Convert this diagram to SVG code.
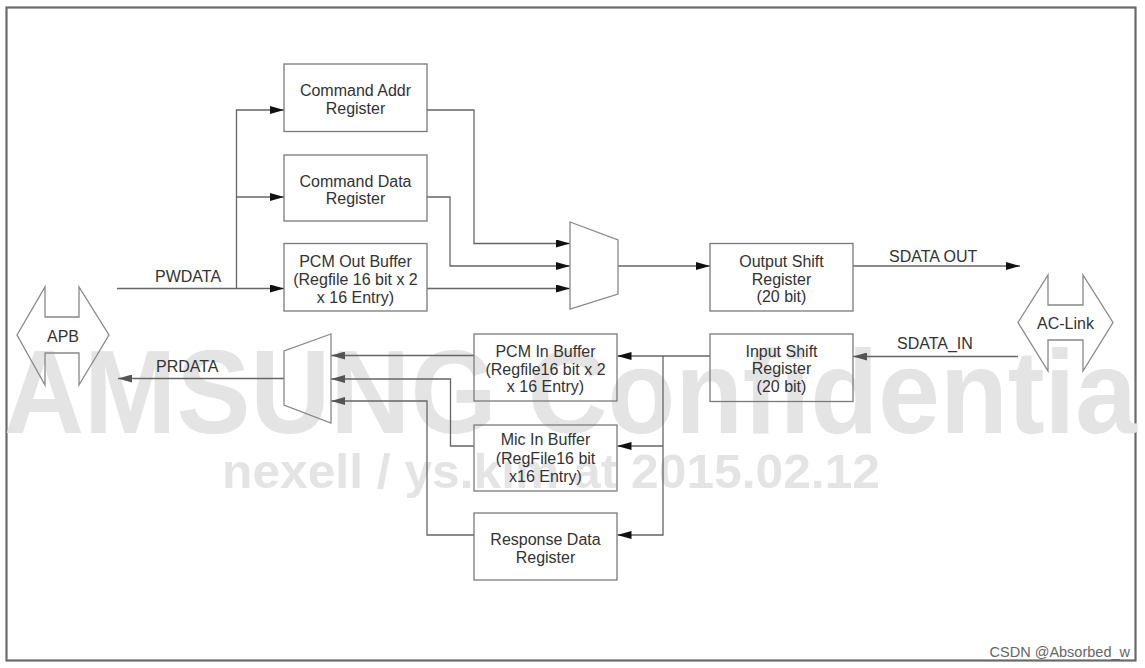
<svg xmlns="http://www.w3.org/2000/svg" width="1145" height="668" viewBox="0 0 1145 668">
<defs>
<style>
.wm{font-family:"Liberation Sans",Arial,sans-serif;font-weight:bold;fill:#e4e4e4}
.box{fill:none;stroke:#7a7a7a;stroke-width:1.3}
.t{font-family:"Liberation Sans",Arial,sans-serif;font-size:16px;fill:#333;text-anchor:middle}
.lbl{font-family:"Liberation Sans",Arial,sans-serif;font-size:16px;fill:#333}
.ln{fill:none;stroke:#666;stroke-width:1.3}
.shape{fill:none;stroke:#888;stroke-width:1.3}
</style>
<marker id="ah" viewBox="0 0 14 8" refX="14" refY="4" markerWidth="14" markerHeight="8" markerUnits="userSpaceOnUse" orient="auto">
<path d="M0,0 L14,4 L0,8 z" fill="#111"/>
</marker>
<marker id="ahg" viewBox="0 0 14 8" refX="14" refY="4" markerWidth="14" markerHeight="8" markerUnits="userSpaceOnUse" orient="auto">
<path d="M0,0 L14,4 L0,8 z" fill="#555"/>
</marker>
</defs>
<rect width="1145" height="668" fill="#fff"/>
<rect x="6.5" y="7.5" width="1129" height="653" fill="none" stroke="#6a6a6a" stroke-width="2.2"/>

<g id="watermark">
<text class="wm" x="4" y="433" font-size="118" textLength="1133" lengthAdjust="spacingAndGlyphs">AMSUNG Confidentia</text>
<text class="wm" x="222" y="488" font-size="49" textLength="658" lengthAdjust="spacingAndGlyphs">nexell / ys.kim at 2015.02.12</text>
</g>

<g id="connectors">
<path class="ln" d="M117,288.5 H284" marker-end="url(#ah)"/>
<path class="ln" d="M236.5,288.5 V110 H284" marker-end="url(#ah)"/>
<path class="ln" d="M236.5,197 H284" marker-end="url(#ah)"/>
<path class="ln" d="M427,110 H474 V243.5 H570" marker-end="url(#ah)"/>
<path class="ln" d="M427,197 H450 V266 H570" marker-end="url(#ah)"/>
<path class="ln" d="M427,288.5 H570" marker-end="url(#ah)"/>
<path class="ln" d="M618,266 H710" marker-end="url(#ah)"/>
<path class="ln" d="M853,266 H1020" marker-end="url(#ah)"/>
<path class="ln" d="M1018,356.5 H853" marker-end="url(#ahg)"/>
<path class="ln" d="M710,356 H617.5" marker-end="url(#ah)"/>
<path class="ln" d="M663,356 V535 H617.5" marker-end="url(#ah)"/>
<path class="ln" d="M663,446 H617.5" marker-end="url(#ah)"/>
<path class="ln" d="M474,355.5 H331" marker-end="url(#ahg)"/>
<path class="ln" d="M474,446 H450.5 V379 H331" marker-end="url(#ahg)"/>
<path class="ln" d="M474,535 H427 V401 H331" marker-end="url(#ahg)"/>
<path class="ln" d="M284,378.5 H118" marker-end="url(#ahg)"/>
<text class="lbl" x="155" y="282">PWDATA</text>
<text class="lbl" x="156" y="372">PRDATA</text>
<text class="lbl" x="889" y="262">SDATA OUT</text>
<text class="lbl" x="897" y="348.5">SDATA_IN</text>
</g>

<g id="apb">
<polygon class="shape" points="17,335 45,287 45,317 79,317 79,287 109,335 79,385 79,353 45,353 45,385"/>
<text class="t" x="63" y="341.5">APB</text>
</g>
<g id="aclink">
<polygon class="shape" points="1018,322.5 1048,275 1048,305 1083,305 1083,275 1113,322.5 1083,371 1083,340 1048,340 1048,371"/>
<text class="t" x="1065.5" y="329">AC-Link</text>
</g>

<g id="cmd-addr">
<rect class="box" x="284" y="64" width="143" height="67.5"/>
<text class="t" x="355.5" y="96">Command Addr</text>
<text class="t" x="355.5" y="114">Register</text>
</g>
<g id="cmd-data">
<rect class="box" x="284" y="155" width="143" height="66"/>
<text class="t" x="355.5" y="186.5">Command Data</text>
<text class="t" x="355.5" y="204">Register</text>
</g>
<g id="pcm-out">
<rect class="box" x="284" y="243.5" width="143" height="67.5"/>
<text class="t" x="355.5" y="266.5">PCM Out Buffer</text>
<text class="t" x="355.5" y="285">(Regfile 16 bit x 2</text>
<text class="t" x="355.5" y="303">x 16 Entry)</text>
</g>
<g id="mux-out">
<polygon class="shape" points="570,222 618,240 618,294 570,309"/>
</g>
<g id="out-shift">
<rect class="box" x="710" y="243.5" width="143" height="67.5"/>
<text class="t" x="781.5" y="266.5">Output Shift</text>
<text class="t" x="781.5" y="284.5">Register</text>
<text class="t" x="781.5" y="301.5">(20 bit)</text>
</g>
<g id="in-shift">
<rect class="box" x="710" y="334" width="143" height="67.5"/>
<text class="t" x="781.5" y="356.5">Input Shift</text>
<text class="t" x="781.5" y="374">Register</text>
<text class="t" x="781.5" y="391.5">(20 bit)</text>
</g>
<g id="pcm-in">
<rect class="box" x="474" y="334" width="143" height="67"/>
<text class="t" x="545.5" y="356.5">PCM In Buffer</text>
<text class="t" x="545.5" y="375">(Regfile16 bit x 2</text>
<text class="t" x="545.5" y="392">x 16 Entry)</text>
</g>
<g id="mic-in">
<rect class="box" x="474" y="425" width="143" height="66"/>
<text class="t" x="545.5" y="445">Mic In Buffer</text>
<text class="t" x="545.5" y="463.5">(RegFile16 bit</text>
<text class="t" x="545.5" y="481.5">x16 Entry)</text>
</g>
<g id="resp-data">
<rect class="box" x="474" y="513" width="143" height="67"/>
<text class="t" x="545.5" y="545">Response Data</text>
<text class="t" x="545.5" y="563">Register</text>
</g>
<g id="mux-in">
<polygon class="shape" points="331,334 284,351 284,405 331,423"/>
</g>

<text x="1130" y="656.5" font-family="'Liberation Sans',Arial,sans-serif" font-size="14.5" fill="#666" text-anchor="end">CSDN @Absorbed_w</text>
</svg>
